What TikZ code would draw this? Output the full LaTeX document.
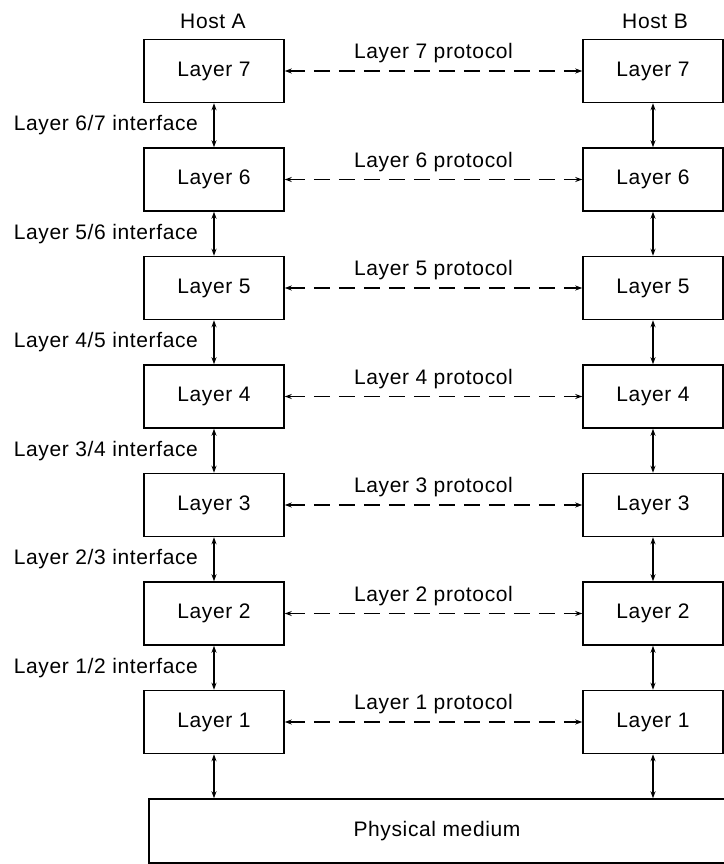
\documentclass[tikz,border=0pt]{standalone}
\usepackage{fontspec}
\setmainfont[LetterSpace=3]{Liberation Sans}
\usetikzlibrary{arrows.meta, positioning, calc}

\begin{document}
\begin{tikzpicture}[
                                        x=1pt, y=-1pt,
                                        line width=1.5pt,
                                        every node/.style={font=\fontsize{21}{25}\selectfont},
                                        layer/.style={draw, rectangle, minimum width=140pt, minimum height=63pt, inner sep=0pt},
                                        link/.style={{Stealth[length=7pt,width=5pt]}-{Stealth[length=7pt,width=5pt]}},
                                        peer/.style={link, dash pattern=on 16pt off 9pt},
                                ]
                                \useasboundingbox (0,0) rectangle (723,864);
                                \node (hosta) at (213,21) {Host A};
                                \node (hostb) at (655,21) {Host B};
                                % the seven layers on each side, with the peer protocols between them
                                \foreach \n in {7,...,1}{
                                        \pgfmathsetmacro\yy{71+(7-\n)*108.5}
                                        \node[layer] (a\n) at (214,\yy) {Layer \n};
                                        \node[layer] (b\n) at (653,\yy) {Layer \n};
                                        \draw[peer] (a\n) -- node[above=4pt] {Layer \n\ protocol} (b\n);
                                }
                                % interfaces between neighbouring layers
                                \foreach \n [evaluate=\n as \m using int(\n+1)] in {1,...,6}{
                                        \draw[link] (a\m) -- node[left=12pt] {Layer \n/\m\ interface} (a\n);
                                        \draw[link] (b\m) -- (b\n);
                                }
                                \node[layer, minimum width=576pt, minimum height=64pt] (medium) at (437,831) {Physical medium};
                                \draw[link] (a1) -- (medium.north -| a1);
                                \draw[link] (b1) -- (medium.north -| b1);
                        \end{tikzpicture}
\end{document}
